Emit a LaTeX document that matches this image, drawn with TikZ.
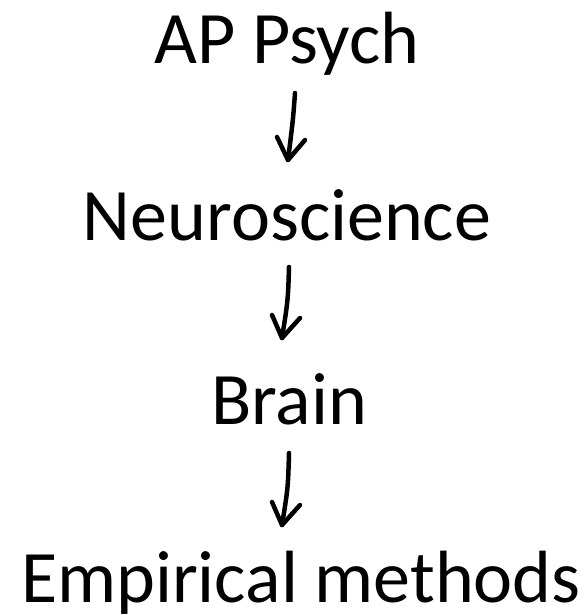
\documentclass[tikz,border=0pt]{standalone}
\usepackage{fontspec}
\setmainfont{Carlito}
\begin{document}
\begin{tikzpicture}[x=1pt,y=-1pt,
  label/.style={anchor=base,inner sep=0pt,font=\fontsize{74}{80}\selectfont},
  hand/.style={line width=4.5pt,line cap=round,line join=round,black}]
\useasboundingbox (0,0) rectangle (586,615);
\node[label] (ap) at (287,64) {AP Psych};
\node[label] (neuro) at (287,240) {Neuroscience};
\node[label] (brain) at (289,424) {Brain};
\node[label] (emp) at (301,602) {Empirical methods};
% arrow 1
\coordinate (s1) at (295,93);
\coordinate (t1) at (288,160);
\coordinate (l1) at (277,137);
\coordinate (r1) at (305,140);
\draw[hand] (s1) .. controls (293,120) .. (t1);
\draw[hand] (l1) -- (t1) -- (r1);
% arrow 2
\coordinate (s2) at (289,267);
\coordinate (t2) at (282,338);
\coordinate (l2) at (272,315);
\coordinate (r2) at (300,318);
\draw[hand] (s2) .. controls (288,300) .. (t2);
\draw[hand] (l2) -- (t2) -- (r2);
% arrow 3
\coordinate (s3) at (289,453);
\coordinate (t3) at (282,525);
\coordinate (l3) at (272,502);
\coordinate (r3) at (300,505);
\draw[hand] (s3) .. controls (288,488) .. (t3);
\draw[hand] (l3) -- (t3) -- (r3);
\end{tikzpicture}
\end{document}
